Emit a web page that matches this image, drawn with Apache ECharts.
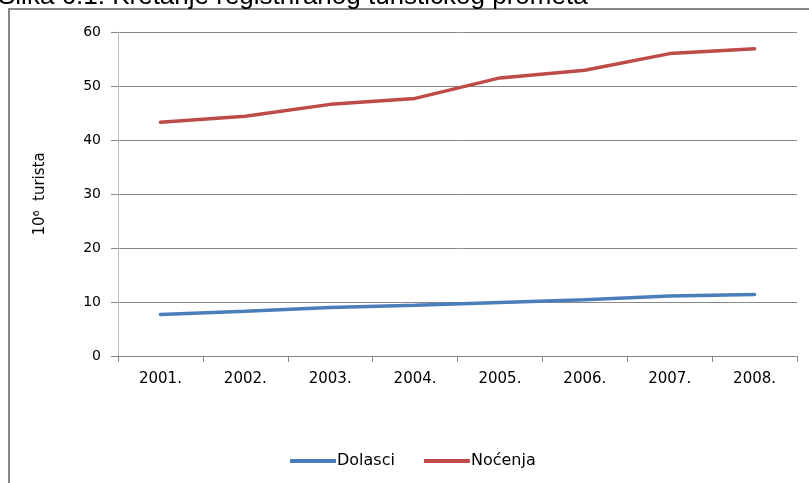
<!DOCTYPE html>
<html>
<head>
<meta charset="utf-8">
<script src="https://cdn.jsdelivr.net/npm/echarts@6/dist/echarts.min.js"></script>
<style>
html,body{margin:0;padding:0;background:#fff;}
#c{width:809px;height:483px;}
</style>
</head>
<body>
<div id="c"></div>
<script>
const titleText = 'Slika 6.1. Kretanje registriranog turističkog prometa';
const categories = ['2001.', '2002.', '2003.', '2004.', '2005.', '2006.', '2007.', '2008.'];
const dolasci = [7.7, 8.3, 9.0, 9.4, 9.9, 10.4, 11.1, 11.4];
const nocenja = [43.3, 44.4, 46.6, 47.7, 51.5, 52.9, 56.0, 56.9];
const yTicks = [0, 10, 20, 30, 40, 50, 60];
const seriesNames = ['Dolasci', 'Noćenja'];

const chart = echarts.init(document.getElementById('c'));
const font = 'DejaVu Sans, Liberation Sans, sans-serif';
const titleFont = 'Liberation Sans, Arial, sans-serif';
chart.setOption({
  animation: false,
  backgroundColor: '#fff',
  title: {
    text: titleText,
    left: -2,
    top: -16,
    padding: 0,
    textStyle: {fontFamily: titleFont, fontSize: 26, fontWeight: 'normal', color: '#000'}
  },
  graphic: [{
    type: 'rect',
    shape: {x: 9, y: 9, width: 820, height: 490},
    style: {fill: 'none', stroke: '#878787', lineWidth: 2},
    silent: true
  }],
  legend: {
    data: seriesNames,
    top: 448,
    left: 285,
    itemWidth: 46,
    itemHeight: 4,
    itemGap: 29,
    icon: 'rect',
    textStyle: {fontFamily: font, fontSize: 16, color: '#000', padding: [0, 0, 0, -4]}
  },
  grid: {left: 118, right: 12, top: 32, bottom: 127, containLabel: false},
  xAxis: {
    type: 'category',
    data: categories,
    boundaryGap: true,
    axisLine: {lineStyle: {color: '#888', width: 1}},
    axisTick: {show: true, length: 6, lineStyle: {color: '#888'}},
    axisLabel: {fontFamily: font, fontSize: 15, color: '#000', margin: 16}
  },
  yAxis: {
    type: 'value',
    min: yTicks[0],
    max: yTicks[yTicks.length - 1],
    interval: 10,
    name: '10⁶  turista',
    nameLocation: 'middle',
    nameGap: 70,
    nameRotate: 90,
    nameTextStyle: {fontFamily: font, fontSize: 15, color: '#000'},
    axisLine: {show: true, lineStyle: {color: '#bbb', width: 1}},
    axisTick: {show: true, length: 7, lineStyle: {color: '#888'}},
    axisLabel: {fontFamily: font, fontSize: 14, color: '#000', margin: 17},
    splitLine: {lineStyle: {color: '#888', width: 1}}
  },
  series: [
    {
      name: seriesNames[0], type: 'line', data: dolasci,
      symbol: 'none', color: '#4a7ebb',
      lineStyle: {width: 3.5, color: '#4a7ebb', cap: 'round'}
    },
    {
      name: seriesNames[1], type: 'line', data: nocenja,
      symbol: 'none', color: '#be4b48',
      lineStyle: {width: 3.5, color: '#be4b48', cap: 'round'}
    }
  ]
});
</script>
</body>
</html>
